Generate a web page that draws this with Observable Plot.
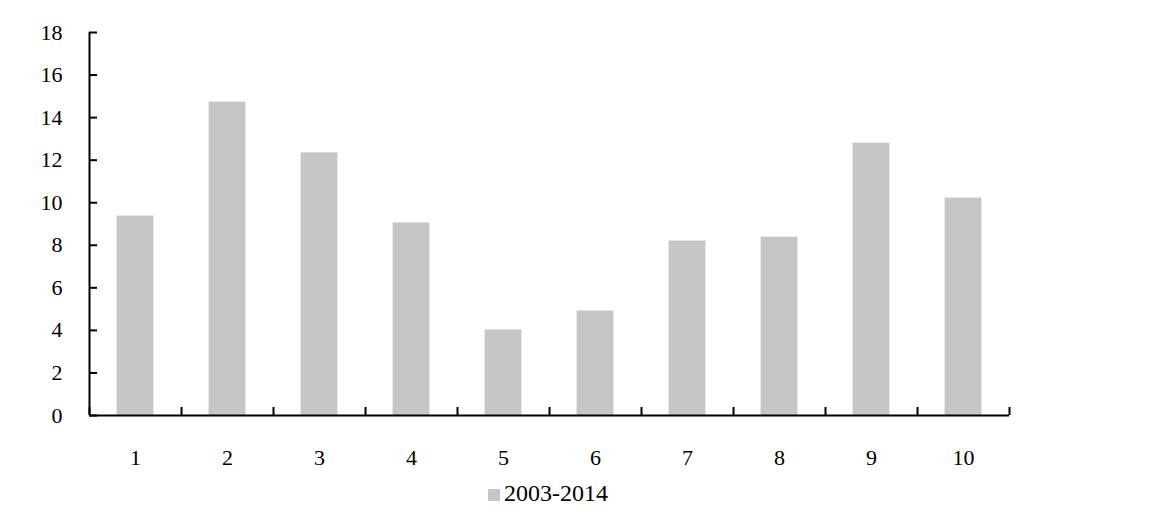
<!DOCTYPE html>
<html>
<head>
<meta charset="utf-8">
<script src="https://cdn.jsdelivr.net/npm/d3@7"></script>
<script src="https://cdn.jsdelivr.net/npm/@observablehq/plot@0.6"></script>
<style>
  body { margin: 0; background: #fff; font-family: "Liberation Serif", "Times New Roman", serif; }
  #legend { position: absolute; left: 0; top: 478px; width: 1096px; text-align: center; font-size: 24px; line-height: 30px; color: #000; }
  #legend .sw { display: inline-block; width: 12px; height: 12px; background: #c6c6c6; margin-right: 4px; vertical-align: 0px; }
</style>
</head>
<body>
<div id="chart"></div>
<div id="legend"><span class="sw"></span>2003-2014</div>
<script>
const categories = [1, 2, 3, 4, 5, 6, 7, 8, 9, 10];
const values = [9.37, 14.73, 12.34, 9.05, 4.02, 4.91, 8.2, 8.38, 12.8, 10.22];
const seriesName = "2003-2014";
const yTicks = [0, 2, 4, 6, 8, 10, 12, 14, 16, 18];
const xBoundaries = [0.5, 1.5, 2.5, 3.5, 4.5, 5.5, 6.5, 7.5, 8.5, 9.5, 10.5];

const data = categories.map((c, i) => ({cat: c, value: values[i]}));
const half = 0.2;

const chart = Plot.plot({
  width: 1155,
  height: 470,
  marginLeft: 89,
  marginRight: 146,
  marginTop: 32,
  marginBottom: 55,
  style: {fontFamily: "Liberation Serif, Times New Roman, serif", fontSize: "22px", color: "#000", background: "#fff"},
  x: {type: "linear", domain: [0.5, 10.5]},
  y: {domain: [0, 18]},
  marks: [
    Plot.rectY(data, {x1: d => d.cat - half, x2: d => d.cat + half, y1: 0, y2: "value", fill: "#c6c6c6"}),
    Plot.axisY({ticks: yTicks, tickSize: -8, tickFormat: () => "", strokeWidth: 2, label: null}),
    Plot.axisY({ticks: yTicks, tickSize: 0, tickPadding: 27, fontSize: 22, label: null}),
    Plot.axisX({ticks: xBoundaries, tickSize: -8, tickFormat: () => "", strokeWidth: 2, label: null}),
    Plot.axisX({ticks: categories, tickSize: 0, tickPadding: 34, fontSize: 22, label: null, tickFormat: d => String(d)}),
    Plot.ruleX([0.5], {stroke: "#000", strokeWidth: 2}),
    Plot.ruleY([0], {stroke: "#000", strokeWidth: 2})
  ]
});
document.getElementById("chart").appendChild(chart);
</script>
</body>
</html>
